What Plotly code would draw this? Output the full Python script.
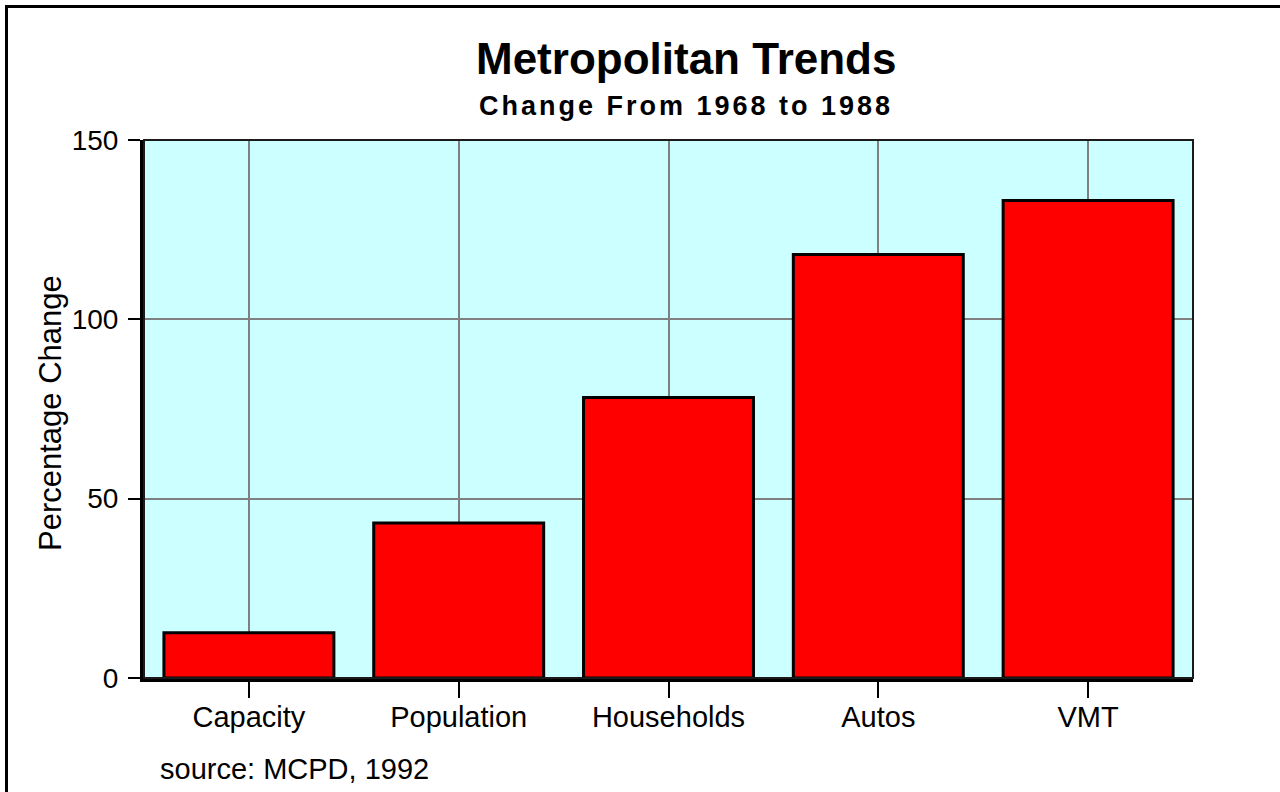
import plotly.graph_objects as go

categories = ["Capacity", "Population", "Households", "Autos", "VMT"]
pct_change = [12.6, 43.2, 78.2, 118.1, 133.1]
y_ticks = [0, 50, 100, 150]

title_text = "Metropolitan Trends"
subtitle_text = "Change From 1968 to 1988"
y_title = "Percentage Change"
source_text = "source: MCPD, 1992"

W, H = 1280, 792
L, R, T, B = 144, 87, 140, 114
pw, ph = W - L - R, H - T - B

def px(x):
    return (x - L) / pw

def py(y):
    return (H - B - y) / ph

FONT = "Liberation Sans, Arial, sans-serif"

fig = go.Figure()
fig.add_trace(go.Bar(
    x=categories, y=pct_change, width=0.81,
    marker=dict(color="#FF0000", line=dict(color="black", width=3)),
    hoverinfo="x+y",
))

fig.update_layout(
    width=W, height=H,
    margin=dict(l=L, r=R, t=T, b=B, pad=0),
    paper_bgcolor="white", plot_bgcolor="#CCFFFF",
    showlegend=False,
    font=dict(family=FONT, size=28, color="black"),
    xaxis=dict(
        range=[-0.5, 4.5], showgrid=True, gridcolor="#808080", gridwidth=2,
        showline=True, linecolor="black", linewidth=4, mirror=False,
        ticks="outside", ticklen=16, tickwidth=2, tickcolor="black",
        tickfont=dict(size=29), ticklabelstandoff=-6, fixedrange=True,
    ),
    yaxis=dict(
        range=[0, 150], tickvals=y_ticks, showgrid=True, gridcolor="#808080", gridwidth=2,
        zeroline=False,
        showline=True, linecolor="black", linewidth=4, mirror=False,
        ticks="outside", ticklen=12, tickwidth=2, tickcolor="black",
        tickfont=dict(size=28), ticklabelstandoff=4, fixedrange=True,
    ),
    shapes=[
        dict(type="rect", xref="paper", yref="paper", x0=0, x1=1, y0=0, y1=1,
             line=dict(color="#1a1a1a", width=2), layer="above"),
        dict(type="rect", xref="paper", yref="paper",
             x0=px(6.5), x1=px(1300), y0=py(820), y1=py(6.5),
             line=dict(color="black", width=3), layer="above"),
    ],
    annotations=[
        dict(text="<b>" + title_text + "</b>", xref="paper", yref="paper",
             x=px(686), y=py(58), xanchor="center", yanchor="middle",
             showarrow=False, font=dict(size=44, family=FONT)),
        dict(text='<b><span style="letter-spacing:3px">' + subtitle_text + "</span></b>",
             xref="paper", yref="paper",
             x=px(686), y=py(106), xanchor="center", yanchor="middle",
             showarrow=False, font=dict(size=27, family=FONT)),
        dict(text=y_title, xref="paper", yref="paper", textangle=-90,
             x=px(50), y=py(413), xanchor="center", yanchor="middle",
             showarrow=False, font=dict(size=31, family=FONT)),
        dict(text=source_text, xref="paper", yref="paper",
             x=px(158), y=py(769), xanchor="left", yanchor="middle",
             showarrow=False, font=dict(size=29, family=FONT)),
    ],
)

fig.write_html("out.html", config={"displayModeBar": False},
               post_script="document.body.style.margin='0';document.body.style.overflow='hidden';")
